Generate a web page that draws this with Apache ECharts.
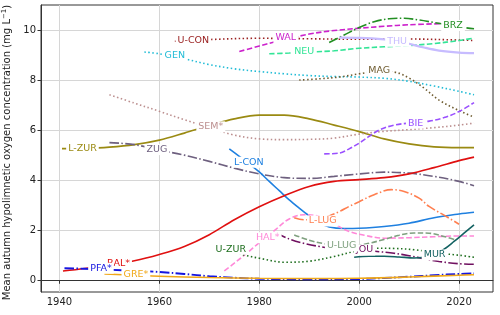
<!DOCTYPE html>
<html><head><meta charset="utf-8">
<script src="https://cdn.jsdelivr.net/npm/echarts@6/dist/echarts.min.js"></script>
<style>html,body{margin:0;padding:0;background:#fff}#c{width:500px;height:315px}</style>
</head><body><div id="c"></div>
<script>
// ---- data (year, mg/L) ----
const LZUR = [[1940.5,5.26],[1945,5.27],[1950,5.32],[1955,5.42],[1960,5.6],[1965,5.88],[1970,6.18],[1975,6.45],[1980,6.6],[1985,6.6],[1990,6.45],[1995,6.2],[2000,5.94],[2005,5.65],[2010,5.45],[2015,5.33],[2020,5.3],[2023,5.3]];
const ZUG = [[1950,5.5],[1955,5.42],[1960,5.2],[1965,5.0],[1970,4.75],[1975,4.48],[1980,4.25],[1985,4.1],[1990,4.07],[1995,4.15],[2000,4.25],[2005,4.32],[2010,4.28],[2015,4.15],[2020,3.95],[2023,3.78]];
const SEM = [[1950,7.41],[1955,7.08],[1960,6.75],[1965,6.42],[1970,6.1],[1975,5.8],[1980,5.65],[1985,5.62],[1990,5.63],[1995,5.68],[2000,5.84],[2005,5.95],[2010,6.02],[2015,6.1],[2020,6.2],[2023,6.28]];
const GEN = [[1957,9.12],[1960,9.05],[1965,8.85],[1970,8.62],[1975,8.45],[1980,8.34],[1985,8.25],[1990,8.18],[1995,8.14],[2000,8.12],[2005,8.07],[2010,7.95],[2015,7.76],[2020,7.55],[2023,7.41]];
const UCON = [[1963.1,9.55],[1970,9.62],[1980,9.67],[1990,9.65],[2000,9.63],[2010,9.64],[2020,9.6],[2023,9.58]];
const WAL = [[1976,9.14],[1980,9.36],[1983,9.52],[1986,9.66],[1990,9.84],[1995,9.98],[2000,10.07],[2005,10.15],[2010,10.21],[2017,10.26]];
const NEU = [[1982,9.05],[1986,9.08],[1990,9.12],[1995,9.17],[2000,9.27],[2005,9.33],[2010,9.38],[2015,9.46],[2020,9.58],[2023,9.68]];
const BRZ = [[1994,9.5],[1997,9.8],[2000,10.1],[2003,10.33],[2006,10.45],[2009,10.47],[2012,10.4],[2015,10.3],[2018,10.2],[2021,10.1],[2023,10.05]];
const THU = [[1996,9.7],[2000,9.69],[2005,9.63],[2008,9.55],[2010,9.45],[2013,9.3],[2016,9.18],[2020,9.1],[2023,9.08]];
const MAG = [[1988,8.0],[1992,8.05],[1996,8.12],[2000,8.25],[2004,8.35],[2007,8.32],[2010,8.08],[2013,7.68],[2016,7.2],[2020,6.78],[2023,6.52]];
const BIE = [[1993,5.05],[1996,5.08],[1998,5.25],[2000,5.48],[2002,5.75],[2004,6.0],[2007,6.2],[2011,6.3],[2014,6.36],[2017,6.5],[2020,6.74],[2023,7.1]];
const LCON = [[1974,5.25],[1976,4.95],[1978,4.65],[1980,4.33],[1982,3.95],[1984,3.58],[1986,3.21],[1988,2.88],[1990,2.57],[1992,2.3],[1994,2.13],[1997,2.07],[2000,2.08],[2005,2.15],[2010,2.28],[2015,2.5],[2020,2.65],[2023,2.72]];
const BAL = [[1940.7,0.37],[1945,0.47],[1950,0.62],[1955,0.78],[1960,1.03],[1965,1.35],[1970,1.82],[1975,2.42],[1980,2.94],[1985,3.38],[1990,3.75],[1995,3.95],[2000,4.02],[2005,4.1],[2010,4.25],[2015,4.5],[2020,4.78],[2023,4.92]];
const PFA = [[1941,0.48],[1945,0.46],[1950,0.42],[1955,0.38],[1960,0.33],[1965,0.25],[1970,0.16],[1975,0.1],[1980,0.06],[1990,0.04],[2000,0.05],[2005,0.09],[2010,0.14],[2015,0.2],[2020,0.25],[2023,0.27]];
const GRE = [[1949,0.25],[1955,0.2],[1960,0.16],[1970,0.11],[1980,0.08],[1990,0.07],[2000,0.08],[2010,0.13],[2020,0.2],[2023,0.22]];
const HAL = [[1973,0.37],[1975,0.68],[1977.5,1.08],[1980,1.5],[1983,1.98],[1986,2.45],[1989,2.62],[1992,2.55],[1995,2.25],[1998,1.95],[2001,1.8],[2005,1.68],[2010,1.7],[2015,1.74],[2020,1.77],[2023,1.77]];
const LLUG = [[1987,2.5],[1989,2.42],[1992,2.45],[1994,2.57],[1996,2.74],[1998,2.95],[2000,3.14],[2003,3.42],[2006.5,3.62],[2009,3.55],[2012,3.28],[2014,2.95],[2017,2.6],[2020,2.24]];
const UZUR = [[1973,1.3],[1975,1.15],[1977,1.01],[1980,0.88],[1985,0.72],[1990,0.76],[1995,0.95],[2000,1.2],[2003,1.28],[2007,1.27],[2011,1.22],[2016,1.08],[2020,1.0],[2023,0.92]];
const ULUG = [[1987,1.81],[1990,1.6],[1993,1.46],[1996.5,1.38],[1999,1.38],[2002,1.48],[2005,1.63],[2008,1.8],[2011,1.89],[2014,1.88],[2017,1.75],[2019.5,1.6]];
const JOU = [[1983.5,1.88],[1986,1.65],[1989,1.47],[1992,1.35],[1995,1.27],[1998,1.22],[2001,1.18],[2004,1.14],[2007,1.08],[2010,0.98],[2013,0.86],[2016,0.75],[2020,0.66],[2023,0.64]];
const MUR = [[1999,0.92],[2002,0.96],[2005,0.96],[2008,0.93],[2011,0.89],[2013,0.92],[2015,1.02],[2017,1.24],[2019,1.55],[2021,1.88],[2023,2.21]];

// inline label anchors (year, value)
const labelAt = {
  'L-ZUR':[1944.6,5.26], 'ZUG':[1959.5,5.22], 'SEM*':[1970.3,6.13], 'GEN':[1963.1,8.98],
  'U-CON':[1966.8,9.57], 'WAL':[1985.3,9.7], 'NEU':[1989,9.14], 'BRZ':[2018.8,10.18],
  'THU':[2007.6,9.55], 'MAG':[2004,8.37], 'BIE':[2011.3,6.28], 'L-CON':[1977.9,4.72],
  'BAL*':[1951.8,0.68], 'PFA*':[1948.3,0.48], 'GRE*':[1955.3,0.24], 'HAL*':[1981.7,1.7],
  'L-LUG':[1992.7,2.37], 'U-ZUR':[1974.3,1.24], 'U-LUG':[1996.5,1.37], 'JOU':[2001.1,1.21],
  'MUR':[2015.1,1.01]
};
const xTicks = [1940,1960,1980,2000,2020];
const yTicks = [0,2,4,6,8,10];

const DOT=[1.5,2.5], DASH=[5.5,2.4], DASHDOT=[9.6,2.4,1.5,2.4], SOLID='solid';
const defs = [
  ['L-ZUR', LZUR, '#9a8a12', SOLID, 1.6],
  ['ZUG', ZUG, '#6e607f', DASHDOT, 1.6],
  ['SEM*', SEM, '#bc8f8f', DOT, 1.6],
  ['GEN', GEN, '#22bcd6', DOT, 1.6],
  ['U-CON', UCON, '#9b2222', DOT, 1.6],
  ['WAL', WAL, '#cc22cc', DASH, 1.6],
  ['NEU', NEU, '#33e597', DASH, 1.6],
  ['BRZ', BRZ, '#238f23', DASHDOT, 1.6],
  ['THU', THU, '#c7bcff', SOLID, 2.2],
  ['MAG', MAG, '#6f5c30', DOT, 1.6],
  ['BIE', BIE, '#9a50ff', DASH, 1.6],
  ['L-CON', LCON, '#1f80e0', SOLID, 1.6],
  ['BAL*', BAL, '#e01010', SOLID, 1.6],
  ['PFA*', PFA, '#1515e0', DASHDOT, 1.9],
  ['GRE*', GRE, '#f0a818', SOLID, 1.6],
  ['HAL*', HAL, '#ff88d8', DASH, 1.6],
  ['L-LUG', LLUG, '#ff7f50', DASHDOT, 1.6],
  ['U-ZUR', UZUR, '#1e6e1e', DOT, 1.6],
  ['JOU', JOU, '#701060', DASHDOT, 1.6],
  ['U-LUG', ULUG, '#7fa07f', DASH, 1.6],
  ['MUR', MUR, '#136262', SOLID, 1.6]
];
const FONT = 'DejaVu Sans';
const series = defs.map(([name, data, color, type, w], i) => ({
  name, type:'line', data, smooth:0.35, showSymbol:false, z: 2,
  lineStyle:{color, width:w, type, cap:'butt'},
  markPoint:{
    symbol:'circle', symbolSize:1, silent:true, z: 5 + i*0.01,
    itemStyle:{color:'rgba(0,0,0,0)'},
    data:[{coord: labelAt[name]}],
    label:{show:true, position:'inside', formatter:name, color, fontSize:9.5, fontFamily:FONT,
      backgroundColor:'#fff', padding:[1,2,0,2], lineHeight:10}
  }
}));

const chart = echarts.init(document.getElementById('c'), null, {renderer:'canvas'});
chart.setOption({
  animation:false,
  grid:{left:41, right:7, top:5, bottom:23, show:true, borderColor:'#333', borderWidth:1,
    backgroundColor:'transparent', containLabel:false, outerBoundsMode:'none'},
  xAxis:{type:'value', min:1936.3, max:2026.8,
    axisLine:{show:true, lineStyle:{color:'#333'}},
    axisTick:{show:true, length:3.5, lineStyle:{color:'#333'}, customValues:xTicks},
    axisLabel:{customValues:xTicks, formatter:v => String(v), color:'#222', fontSize:10, fontFamily:FONT, margin:5},
    splitLine:{show:true, lineStyle:{color:'#d6d6d6', width:1}}
  },
  yAxis:{type:'value', min:-0.47, max:11.0,
    name:'Mean autumn hypolimnetic oxygen concentration (mg L{s|−1})',
    nameLocation:'middle', nameGap:25,
    nameTextStyle:{fontSize:10, fontFamily:FONT, color:'#222', padding:[0,8,0,0],
      rich:{s:{fontSize:7, verticalAlign:'top', fontFamily:FONT, color:'#222', padding:[0,0,6,0]}}},
    axisLine:{show:true, lineStyle:{color:'#333'}},
    axisTick:{show:true, length:3.5, lineStyle:{color:'#333'}, customValues:yTicks},
    axisLabel:{customValues:yTicks, formatter:v => String(v), color:'#222', fontSize:10, fontFamily:FONT, margin:5},
    splitLine:{show:true, lineStyle:{color:'#d6d6d6', width:1}}
  },
  series
});
</script></body></html>
